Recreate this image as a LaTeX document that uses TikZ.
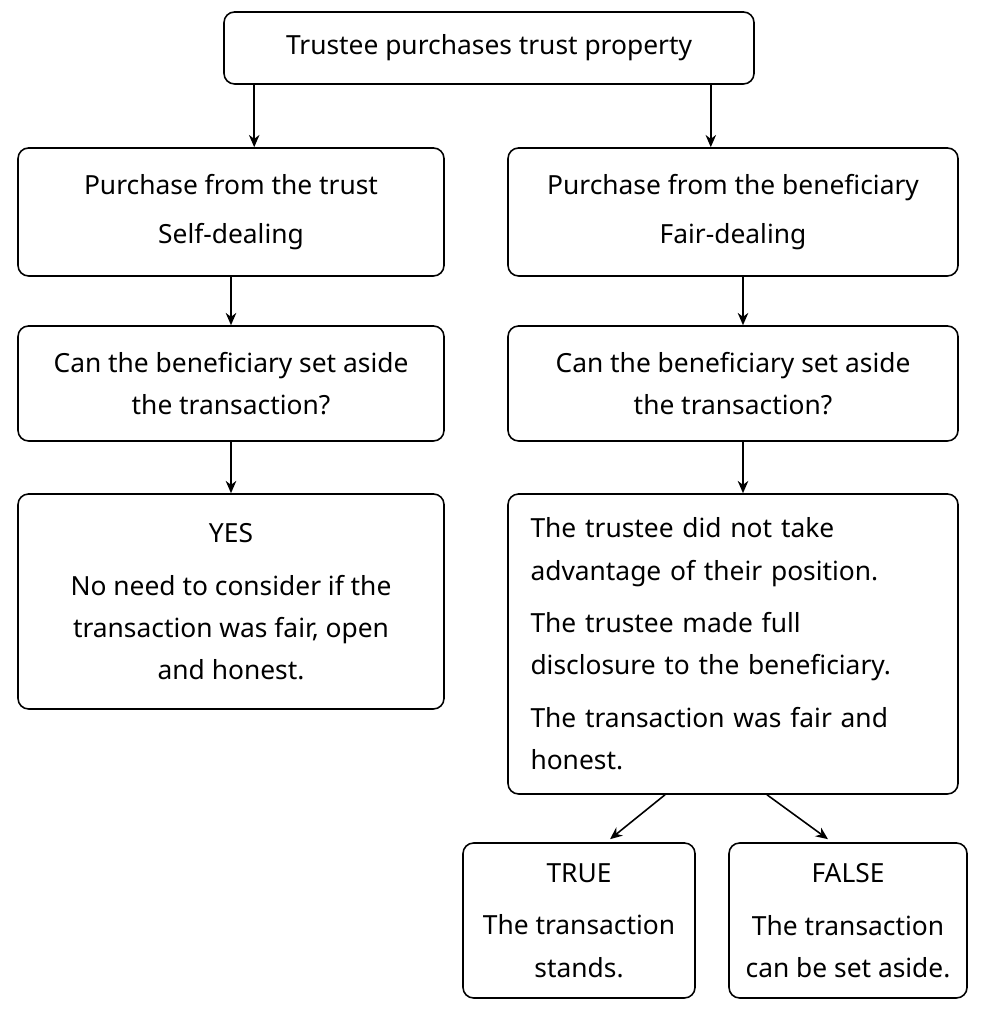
\documentclass[tikz,border=0pt]{standalone}
\usepackage{fontspec}
\setmainfont{Noto Sans}
\usetikzlibrary{arrows.meta,positioning,calc}

\tikzset{
  box/.style={draw, line width=0.9pt, rounded corners=6pt, align=center,
    font=\fontsize{15}{24}\selectfont},
  link/.style={-{Stealth[length=7pt,width=6pt]}, line width=0.9pt}
}

\begin{document}
\begin{tikzpicture}
\useasboundingbox (0,0) rectangle (19.7,20.32);

% top row
\node[box, minimum width=10.6cm, minimum height=1.44cm] (buy) at (9.78,19.36)
  {Trustee purchases trust property};

% second row
\node[box, minimum width=8.52cm, minimum height=2.56cm] (trust) at (4.62,16.08)
  {Purchase from the trust\\[4pt] Self-dealing};
\node[box, minimum width=9.0cm, minimum height=2.56cm] (benef) at (14.66,16.08)
  {Purchase from the beneficiary\\[4pt] Fair-dealing};

% questions
\node[box, minimum width=8.52cm, minimum height=2.3cm] (askL) at (4.62,12.65)
  {Can the beneficiary set aside\\ the transaction?};
\node[box, minimum width=9.0cm, minimum height=2.3cm] (askR) at (14.66,12.65)
  {Can the beneficiary set aside\\ the transaction?};

% answers
\node[box, minimum width=8.52cm, minimum height=4.3cm] (yes) at (4.62,8.29)
  {YES\\[6pt] No need to consider if the\\ transaction was fair, open\\ and honest.};
\node[box, minimum width=9.0cm, minimum height=6.0cm, text width=8.1cm, align=left] (tests) at (14.66,7.44)
  {The trustee did not take\\ advantage of their position.\\[6pt]
   The trustee made full\\ disclosure to the beneficiary.\\[6pt]
   The transaction was fair and\\ honest.};

% outcomes
\node[box, minimum width=4.64cm, minimum height=3.1cm] (true) at (11.58,1.91)
  {TRUE\\[6pt] The transaction\\ stands.};
\node[box, minimum width=4.76cm, minimum height=3.1cm] (false) at (16.96,1.91)
  {FALSE\\[6pt] The transaction\\ can be set aside.};

% connectors
\draw[link] ($(buy.south west)+(0.62,0)$) -- (trust.north -| {$(buy.south west)+(0.62,0)$});
\draw[link] ($(buy.south east)+(-0.88,0)$) -- (benef.north -| {$(buy.south east)+(-0.88,0)$});
\draw[link] (trust.south) -- (askL.north);
\draw[link] ($(benef.south)+(0.2,0)$) -- ($(askR.north)+(0.2,0)$);
\draw[link] (askL.south) -- (yes.north);
\draw[link] ($(askR.south)+(0.2,0)$) -- ($(tests.north)+(0.2,0)$);
\draw[link] ($(tests.south)+(-1.36,0)$) -- ($(true.north)+(0.62,0.06)$);
\draw[link] ($(tests.south)+(0.68,0)$) -- ($(false.north)+(-0.4,0.06)$);
\end{tikzpicture}
\end{document}
